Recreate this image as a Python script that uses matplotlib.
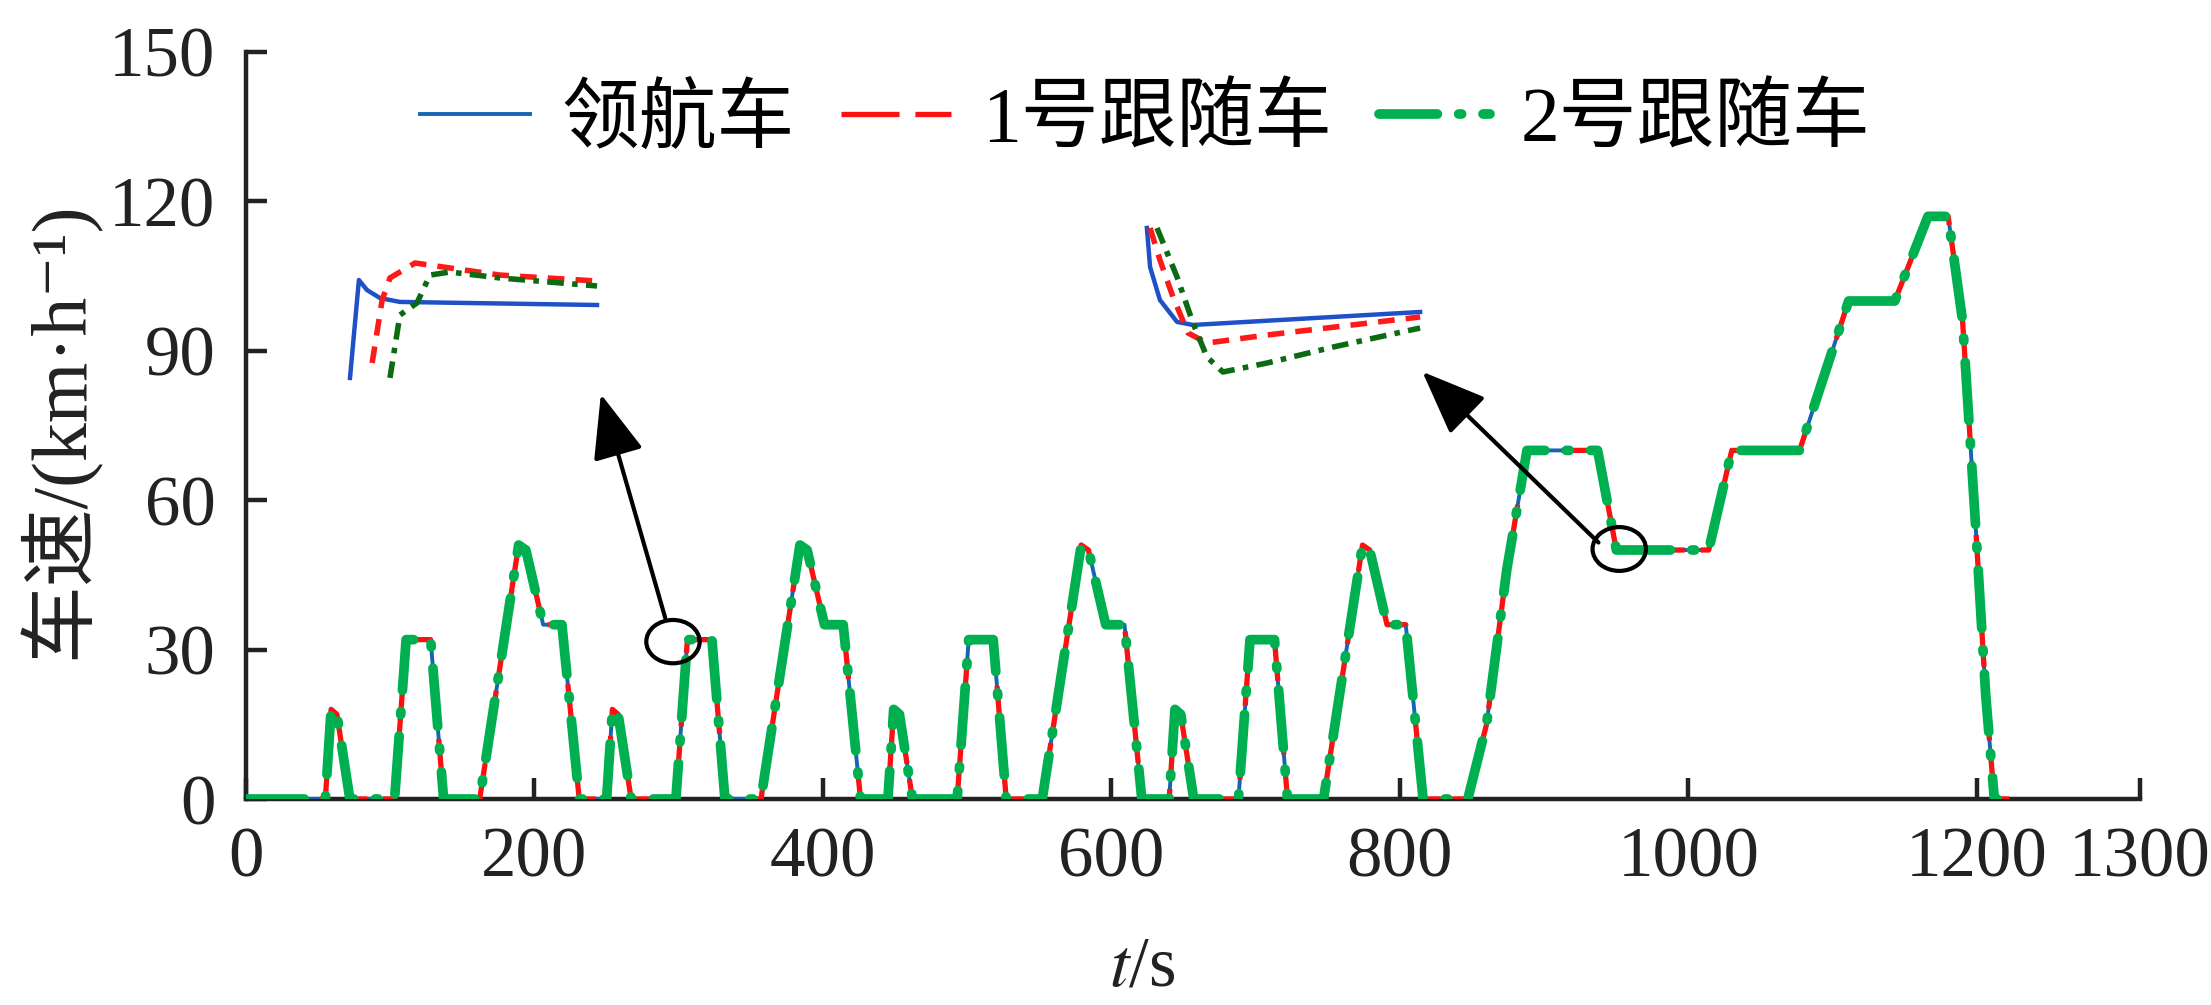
import matplotlib
matplotlib.use("Agg")
import matplotlib.pyplot as plt
from matplotlib.patches import Ellipse

plt.rcParams['font.family'] = ['Liberation Serif', 'Noto Sans CJK SC', 'DejaVu Sans']
plt.rcParams['mathtext.fontset'] = 'stix'
plt.rcParams['axes.unicode_minus'] = False

# ---------------- data ----------------
time_s = [0, 55, 59, 63, 72, 103, 111, 128, 137, 162, 189, 194, 206, 219, 231,
          250, 254, 258, 267, 298, 306, 323, 332, 357, 384, 389, 401, 414, 426,
          445, 449, 453, 462, 493, 501, 518, 527, 552, 579, 584, 596, 609, 621,
          640, 644, 648, 657, 688, 696, 713, 722, 747, 774, 779, 791, 804, 816,
          847, 860, 874, 888, 937, 950, 1014, 1030, 1077, 1111, 1143, 1166, 1180,
          1190, 1199, 1206, 1212]
lead_speed = [0, 0, 18, 17, 0, 0, 32, 32, 0, 0, 51, 50, 35, 35, 0,
              0, 18, 17, 0, 0, 32, 32, 0, 0, 51, 50, 35, 35, 0,
              0, 18, 17, 0, 0, 32, 32, 0, 0, 51, 50, 35, 35, 0,
              0, 18, 17, 0, 0, 32, 32, 0, 0, 51, 50, 35, 35, 0,
              0, 15, 46, 70, 70, 50, 50, 70, 70, 100, 100, 117, 117,
              96, 55, 21, 0]
follower1_speed = list(lead_speed)
follower2_speed = list(lead_speed)
lead_end_s = 1218
follower1_end_s = 1228
follower2_end_s = 1214

series_names = ['领航车', '1号跟随车', '2号跟随车']

# zoom-in detail 1 (around t≈296 s), local 0-100 units
in1_lead_x = [3.7, 7.0, 10.0, 14.8, 22.2, 95.2]
in1_lead_y = [7.1, 64.7, 58.8, 54.1, 51.8, 50.0]
in1_f1_x = [11.9, 15.6, 18.5, 27.8, 40.7, 59.3, 95.2]
in1_f1_y = [15.9, 52.9, 65.9, 74.7, 71.8, 67.6, 64.1]
in1_f2_x = [18.5, 22.2, 28.5, 33.3, 40.7, 59.3, 95.2]
in1_f2_y = [7.1, 44.1, 51.2, 67.6, 69.4, 65.9, 61.2]

# zoom-in detail 2 (around t≈952 s), local 0-100 units
in2_lead_x = [4.1, 5.2, 8.6, 14.5, 20.0, 98.3]
in2_lead_y = [95.0, 70.6, 50.0, 36.3, 34.4, 42.5]
in2_f1_x = [5.2, 8.6, 13.1, 18.3, 24.8, 45.5, 98.3]
in2_f1_y = [95.0, 75.0, 51.9, 29.4, 23.1, 28.1, 39.4]
in2_f2_x = [7.6, 14.5, 20.0, 24.8, 30.3, 45.5, 68.3, 98.3]
in2_f2_y = [95.0, 64.4, 35.6, 14.4, 5.0, 10.6, 20.6, 32.5]

x_ticks = [0, 200, 400, 600, 800, 1000, 1200, 1313]
x_tick_labels = ['0', '200', '400', '600', '800', '1000', '1200', '1300']
y_ticks = [0, 30, 60, 90, 120, 150]

# ---------------- figure ----------------
W, H = 2211, 1005
fig = plt.figure(figsize=(W / 100, H / 100), dpi=100)
ax = fig.add_axes([246 / W, 206 / H, 1894 / W, 747 / H])

c_blue = '#1565b4'
c_red = '#ff1010'
c_green = '#00b050'
c_dgreen = '#0a6b12'

t_lead = time_s + [lead_end_s]
t_f1 = time_s + [follower1_end_s]
t_f2 = time_s + [follower2_end_s]

l1, = ax.plot(t_lead, lead_speed + [0], color=c_blue, lw=2.8, label=series_names[0], zorder=3)
l2, = ax.plot(t_f1, follower1_speed + [0], color=c_red, lw=3.8, label=series_names[1],
              dashes=(11, 3), zorder=4)
l3, = ax.plot(t_f2, follower2_speed + [0], color=c_green, lw=7, label=series_names[2],
              dashes=(6, 2.2, 0.3, 2.2), dash_capstyle='round', zorder=5)

ax.set_xlim(0, 1313)
ax.set_ylim(0, 150)
ax.set_xticks(x_ticks)
ax.set_xticklabels(x_tick_labels)
ax.set_yticks(y_ticks)
for s in ['top', 'right']:
    ax.spines[s].set_visible(False)
for s in ['left', 'bottom']:
    ax.spines[s].set_linewidth(3.2)
    ax.spines[s].set_color('#222222')
ax.tick_params(direction='in', length=15, width=3.2, color='#222222',
               labelsize=51, labelcolor='#222222')
ax.tick_params(axis='x', pad=20)
ax.tick_params(axis='y', pad=22)

ax.set_xlabel('$t$/s', fontsize=51, color='#222222')
ax.xaxis.label.set_verticalalignment('center')
ax.xaxis.set_label_coords((1142 - 246) / 1894, -(968 - 799) / 747)
ax.set_ylabel('车速/(km·h⁻¹)', fontsize=56, color='#222222')
ax.yaxis.label.set_verticalalignment('center')
ax.yaxis.set_label_coords(-(246 - 58) / 1894, (799 - 430) / 747)

leg = ax.legend(handles=[l1, l2, l3], loc='center', ncol=3, frameon=False,
                bbox_to_anchor=((1145 - 246) / 1894, (799 - 122) / 747),
                fontsize=56, handlelength=1.42, handletextpad=0.4, columnspacing=0.6)

# circles and arrows
ax.add_patch(Ellipse((296, 31.6), 37, 8.7, fill=False, lw=3, color='k', zorder=6))
ax.add_patch(Ellipse((952, 50.2), 37, 8.8, fill=False, lw=3, color='k', zorder=6))
arrow_kw = dict(arrowstyle='-|>,head_length=0.5,head_width=0.2', lw=3, color='k',
                shrinkA=0, shrinkB=0, mutation_scale=80)
ax.annotate('', xy=(246, 81.3), xytext=(290.6, 36.4), arrowprops=arrow_kw, zorder=6)
ax.annotate('', xy=(815.5, 85.8), xytext=(937.6, 51.5), arrowprops=arrow_kw, zorder=6)

# inset 1
ia1 = fig.add_axes([340 / W, 1 - 390 / H, 270 / W, 170 / H])
ia1.plot(in1_lead_x, in1_lead_y, color='#1f50c8', lw=3.2)
ia1.plot(in1_f1_x, in1_f1_y, color='#ff1a1a', lw=4, dashes=(3, 2))
ia1.plot(in1_f2_x, in1_f2_y, color=c_dgreen, lw=4, dashes=(3, 1.5, 1, 1.5))
ia1.set_xlim(0, 100)
ia1.set_ylim(0, 100)
ia1.axis('off')

# inset 2
ia2 = fig.add_axes([1135 / W, 1 - 380 / H, 290 / W, 160 / H])
ia2.plot(in2_lead_x, in2_lead_y, color='#1f50c8', lw=3.2)
ia2.plot(in2_f1_x, in2_f1_y, color='#ff1a1a', lw=4, dashes=(3, 2))
ia2.plot(in2_f2_x, in2_f2_y, color=c_dgreen, lw=4, dashes=(3, 1.5, 1, 1.5))
ia2.set_xlim(0, 100)
ia2.set_ylim(0, 100)
ia2.axis('off')

fig.savefig('out.png', dpi=100)
